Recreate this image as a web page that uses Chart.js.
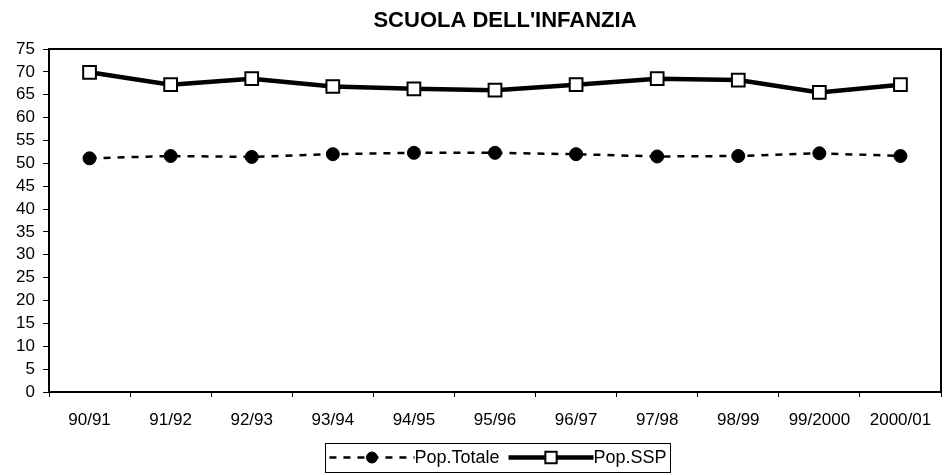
<!DOCTYPE html>
<html>
<head>
<meta charset="utf-8">
<script src="https://cdn.jsdelivr.net/npm/chart.js@4"></script>
<style>
  html, body { margin: 0; padding: 0; background: #fff; }
  #wrap { width: 944px; height: 475px; }
</style>
</head>
<body>
<div id="wrap"><canvas id="lineCanvas" width="944" height="475"></canvas></div>
<script>
// dati
const categories = ['90/91', '91/92', '92/93', '93/94', '94/95', '95/96', '96/97', '97/98', '98/99', '99/2000', '2000/01'];
const popTotale = [51.1, 51.6, 51.4, 52.0, 52.3, 52.3, 52.0, 51.5, 51.6, 52.2, 51.6];
const popSSP = [69.9, 67.2, 68.5, 66.8, 66.3, 66.0, 67.2, 68.5, 68.2, 65.5, 67.2];
const seriesNames = ['Pop.Totale', 'Pop.SSP'];
const titleText = "SCUOLA DELL'INFANZIA";
const yMin = 0, yMax = 75, yStep = 5;

const FONT = "'Liberation Sans', Arial, sans-serif";

// titolo
const titlePlugin = {
    id: 'titolo',
    afterDraw(chart) {
        const ctx = chart.ctx;
        ctx.save();
        ctx.font = 'bold 22px ' + FONT;
        ctx.fillStyle = '#000';
        ctx.textAlign = 'center';
        ctx.textBaseline = 'middle';
        ctx.fillText(titleText, 505, 21);
        ctx.restore();
    }
};

// cornice dell'area del grafico
const framePlugin = {
    id: 'cornice',
    beforeDatasetsDraw(chart) {
        const ctx = chart.ctx;
        const a = chart.chartArea;
        ctx.save();
        ctx.strokeStyle = '#000';
        ctx.lineWidth = 2;
        ctx.strokeRect(a.left, a.top, a.right - a.left, a.bottom - a.top);
        ctx.restore();
    }
};

// legenda con campione di linea + marcatore, dentro un riquadro
const legendPlugin = {
    id: 'legendaBox',
    afterDraw(chart) {
        const ctx = chart.ctx;
        const sampleW = 85;
        const gap = 9;
        ctx.save();
        ctx.font = '18px ' + FONT;
        const w0 = ctx.measureText(seriesNames[0]).width;
        const w1 = ctx.measureText(seriesNames[1]).width;
        const total = sampleW + w0 + gap + sampleW + w1;
        const boxL = 498 - total / 2 - 4;
        const boxT = 443, boxH = 29;
        const cy = boxT + boxH / 2;

        ctx.strokeStyle = '#000';
        ctx.lineWidth = 1;
        ctx.strokeRect(Math.round(boxL) + 0.5, boxT + 0.5, Math.round(total + 8), boxH);

        let x = boxL + 4;
        chart.data.datasets.forEach((ds, i) => {
            ctx.save();
            ctx.strokeStyle = ds.borderColor;
            ctx.lineWidth = ds.borderWidth;
            ctx.setLineDash(ds.borderDash || []);
            ctx.beginPath();
            ctx.moveTo(x, cy);
            ctx.lineTo(x + sampleW, cy);
            ctx.stroke();
            ctx.restore();
            ctx.save();
            ctx.fillStyle = ds.pointBackgroundColor;
            ctx.strokeStyle = ds.pointBorderColor;
            ctx.lineWidth = ds.pointBorderWidth;
            Chart.helpers.drawPoint(ctx, {
                pointStyle: ds.pointStyle,
                radius: ds.pointRadius - 1,
                borderWidth: ds.pointBorderWidth
            }, x + sampleW / 2, cy);
            ctx.restore();
            ctx.fillStyle = '#000';
            ctx.textAlign = 'left';
            ctx.textBaseline = 'middle';
            ctx.fillText(ds.label, x + sampleW, cy + 1);
            x += sampleW + (i === 0 ? w0 + gap : w1);
        });
        ctx.restore();
    }
};

const ctx = document.getElementById('lineCanvas').getContext('2d');
new Chart(ctx, {
    type: 'line',
    data: {
        labels: categories,
        datasets: [
            {
                label: seriesNames[0],
                data: popTotale,
                borderColor: '#000',
                backgroundColor: '#000',
                borderWidth: 2.5,
                borderDash: [7, 7],
                pointStyle: 'circle',
                pointRadius: 6.5,
                pointBackgroundColor: '#000',
                pointBorderColor: '#000',
                pointBorderWidth: 1,
                tension: 0
            },
            {
                label: seriesNames[1],
                data: popSSP,
                borderColor: '#000',
                backgroundColor: '#fff',
                borderWidth: 4.5,
                pointStyle: 'rect',
                pointRadius: 9,
                pointBackgroundColor: '#fff',
                pointBorderColor: '#000',
                pointBorderWidth: 2,
                tension: 0
            }
        ]
    },
    options: {
        responsive: false,
        animation: false,
        layout: { autoPadding: false, padding: { top: 49, right: 3, bottom: 43, left: 0 } },
        plugins: {
            legend: { display: false },
            title: { display: false },
            tooltip: { enabled: false }
        },
        scales: {
            x: {
                offset: true,
                grid: {
                    offset: true,
                    drawOnChartArea: false,
                    drawTicks: true,
                    tickLength: 5,
                    color: '#000',
                    lineWidth: 1
                },
                border: { color: '#000', width: 2 },
                ticks: {
                    color: '#000',
                    font: { family: FONT, size: 17 },
                    padding: 13,
                    maxRotation: 0,
                    autoSkip: false
                },
                afterFit(scale) {
                    scale.height = 40;
                    scale.paddingLeft = 0;
                    scale.paddingRight = 0;
                }
            },
            y: {
                min: yMin,
                max: yMax,
                grid: {
                    drawOnChartArea: false,
                    drawTicks: true,
                    tickLength: 6,
                    color: '#000',
                    lineWidth: 1
                },
                border: { color: '#000', width: 2 },
                ticks: {
                    stepSize: yStep,
                    autoSkip: false,
                    color: '#000',
                    font: { family: FONT, size: 17 },
                    padding: 8
                },
                afterFit(scale) { scale.width = 49; }
            }
        }
    },
    plugins: [framePlugin, titlePlugin, legendPlugin]
});
</script>
</body>
</html>
